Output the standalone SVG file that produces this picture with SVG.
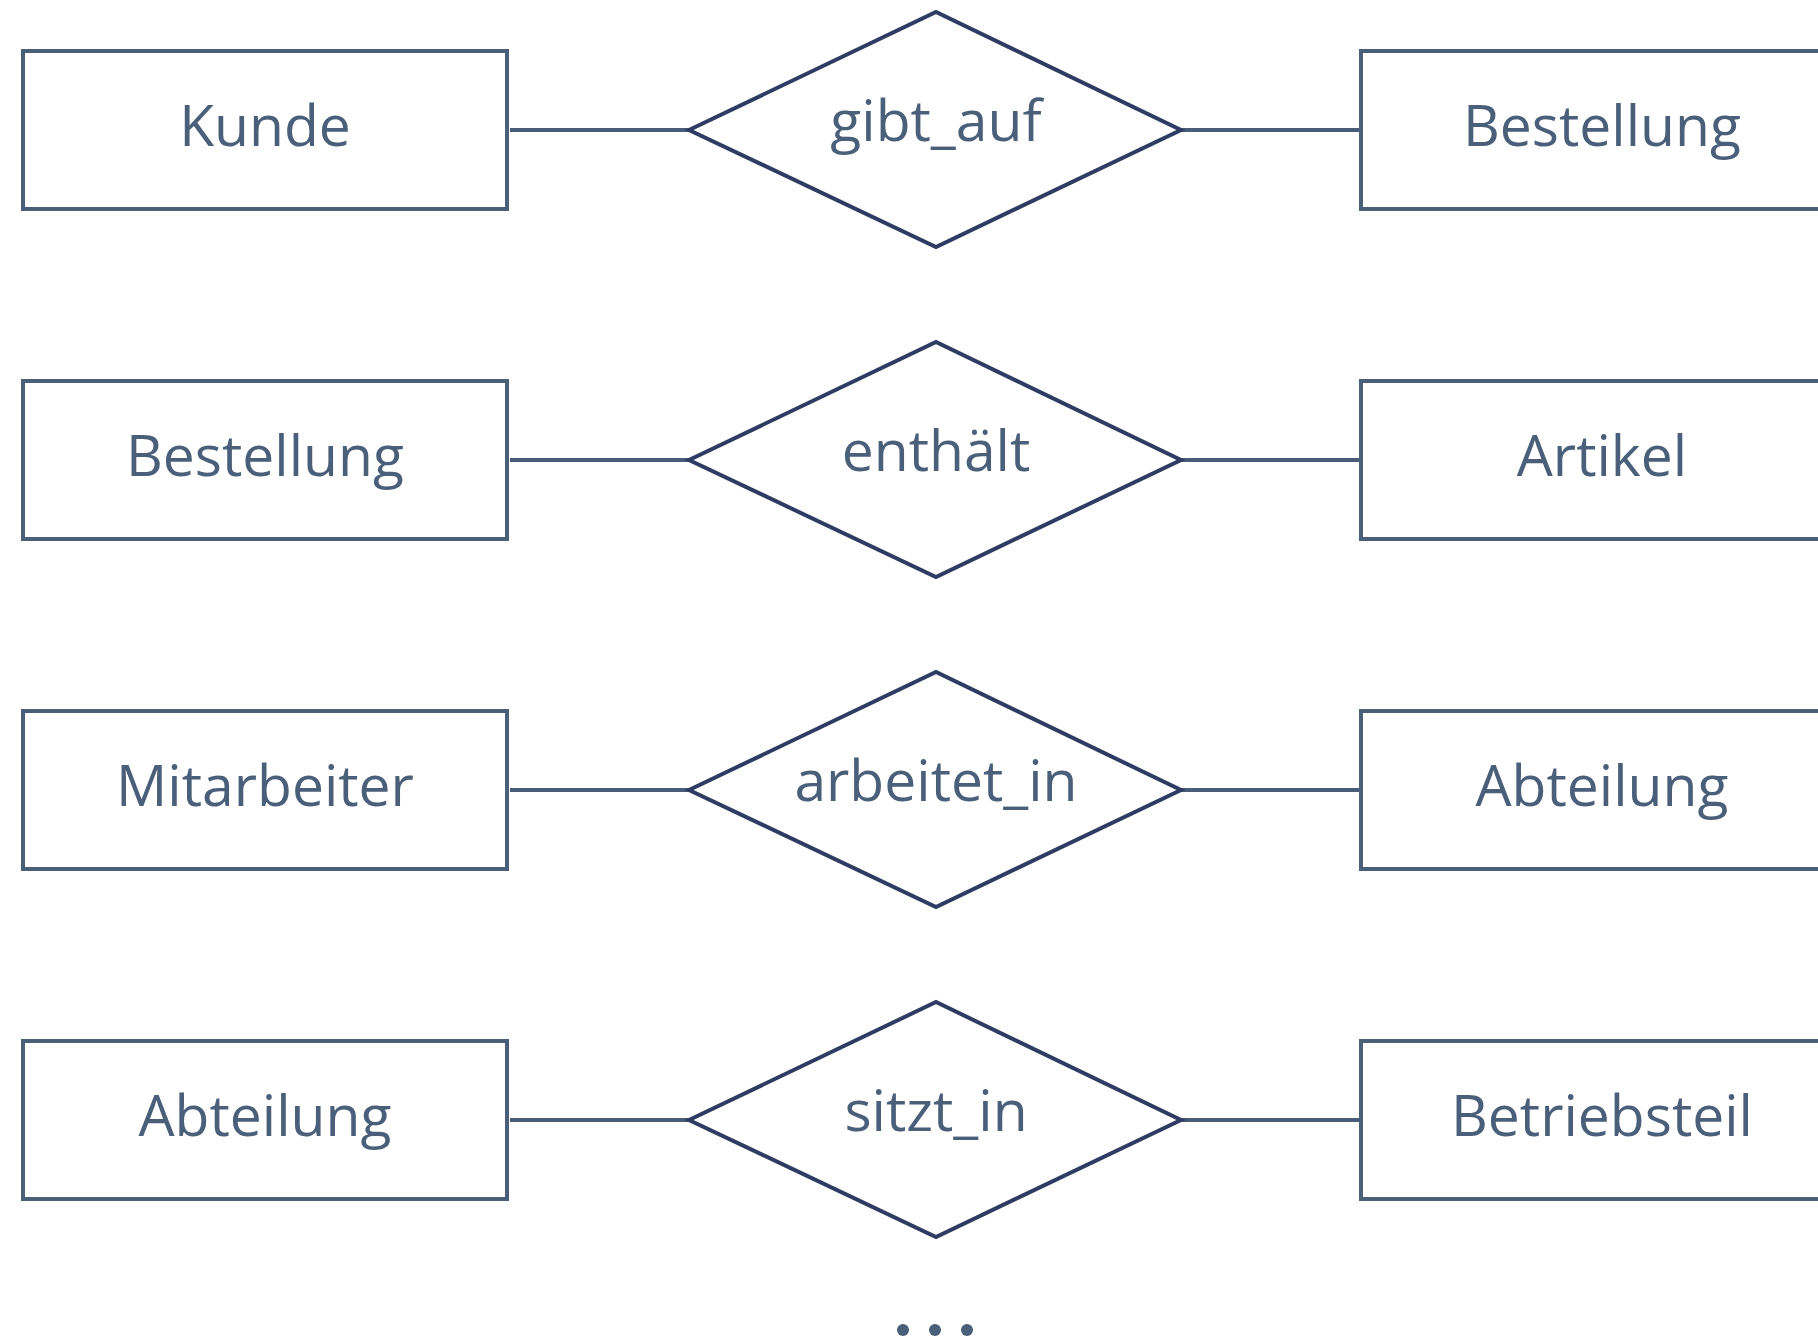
<svg xmlns="http://www.w3.org/2000/svg" width="1818" height="1338" viewBox="0 0 1818 1338">
<style>
.ent{fill:#fff;stroke:#4a5f7a;stroke-width:4}
.rel{fill:#fff;stroke:#2e3c63;stroke-width:4;stroke-linejoin:miter}
.con{stroke:#475c79;stroke-width:4;fill:none}
.t{font-family:"Open Sans","Noto Sans",sans-serif;font-size:57px;fill:#4a5f7a;text-anchor:middle}
.dot{fill:#4a5f7a}
</style>
<rect width="1818" height="1338" fill="#fff"/>
<g id="connectors">
<line class="con" x1="510" y1="130" x2="689" y2="130"/>
<line class="con" x1="1181" y1="130" x2="1361" y2="130"/>
<line class="con" x1="510" y1="460" x2="689" y2="460"/>
<line class="con" x1="1181" y1="460" x2="1361" y2="460"/>
<line class="con" x1="510" y1="790" x2="689" y2="790"/>
<line class="con" x1="1181" y1="790" x2="1361" y2="790"/>
<line class="con" x1="510" y1="1120" x2="689" y2="1120"/>
<line class="con" x1="1181" y1="1120" x2="1361" y2="1120"/>
</g>
<g id="kunde"><rect class="ent" x="23" y="51" width="484" height="158"/><text class="t" x="265" y="146">Kunde</text></g>
<g id="gibt_auf"><polygon class="rel" points="689,130 936,12 1181,130 936,247"/><text class="t" x="936" y="141">gibt_auf</text></g>
<g id="bestellung1"><rect class="ent" x="1361" y="51" width="484" height="158"/><text class="t" x="1602" y="146">Bestellung</text></g>

<g id="bestellung2"><rect class="ent" x="23" y="381" width="484" height="158"/><text class="t" x="265" y="476">Bestellung</text></g>
<g id="enthaelt"><polygon class="rel" points="689,460 936,342 1181,460 936,577"/><text class="t" x="936" y="471">enthält</text></g>
<g id="artikel"><rect class="ent" x="1361" y="381" width="484" height="158"/><text class="t" x="1602" y="476">Artikel</text></g>

<g id="mitarbeiter"><rect class="ent" x="23" y="711" width="484" height="158"/><text class="t" x="265" y="806">Mitarbeiter</text></g>
<g id="arbeitet_in"><polygon class="rel" points="689,790 936,672 1181,790 936,907"/><text class="t" x="936" y="801">arbeitet_in</text></g>
<g id="abteilung1"><rect class="ent" x="1361" y="711" width="484" height="158"/><text class="t" x="1602" y="806">Abteilung</text></g>

<g id="abteilung2"><rect class="ent" x="23" y="1041" width="484" height="158"/><text class="t" x="265" y="1136">Abteilung</text></g>
<g id="sitzt_in"><polygon class="rel" points="689,1120 936,1002 1181,1120 936,1237"/><text class="t" x="936" y="1131">sitzt_in</text></g>
<g id="betriebsteil"><rect class="ent" x="1361" y="1041" width="484" height="158"/><text class="t" x="1602" y="1136">Betriebsteil</text></g>

<g id="ellipsis">
<circle class="dot" cx="903" cy="1330" r="6"/>
<circle class="dot" cx="935" cy="1330" r="6"/>
<circle class="dot" cx="967" cy="1330" r="6"/>
</g>
</svg>
